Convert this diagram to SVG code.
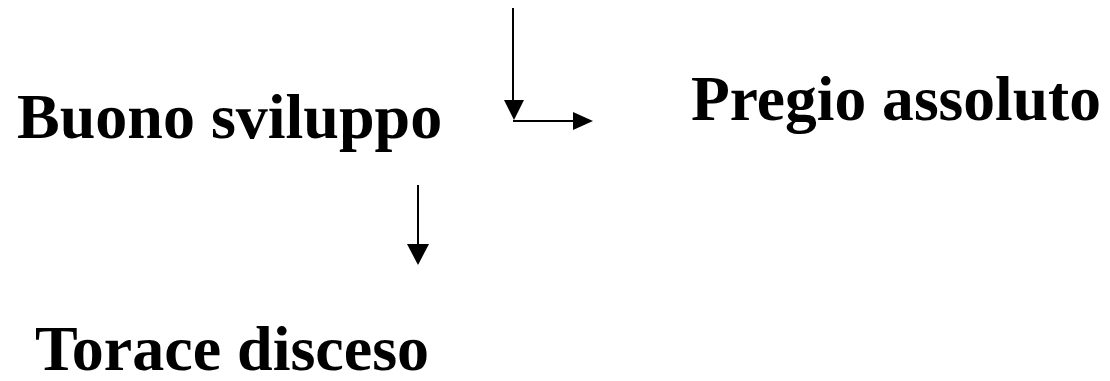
<svg xmlns="http://www.w3.org/2000/svg" width="1110" height="381" viewBox="0 0 1110 381">
  <style>
    .label { font-family: "Liberation Serif", "Times New Roman", serif; font-weight: bold; font-size: 64px; fill: #000; }
    .conn { stroke: #000; stroke-width: 2; fill: none; }
    .head { fill: #000; }
  </style>
  <rect width="1110" height="381" fill="#fff"/>
  <g id="node-buono">
    <text class="label" x="17" y="138">Buono sviluppo</text>
  </g>
  <g id="node-pregio">
    <text class="label" x="691" y="120" textLength="410" lengthAdjust="spacingAndGlyphs">Pregio assoluto</text>
  </g>
  <g id="node-torace">
    <text class="label" x="35" y="370">Torace disceso</text>
  </g>
  <g id="connectors">
    <line class="conn" x1="513" y1="8" x2="513" y2="102"/>
    <polygon class="head" points="504,100 524,100 514,120"/>
    <line class="conn" x1="513" y1="121" x2="575" y2="121"/>
    <polygon class="head" points="573,112 593,121 573,130"/>
    <line class="conn" x1="418" y1="185" x2="418" y2="246"/>
    <polygon class="head" points="407,244 429,244 418,265"/>
  </g>
</svg>
